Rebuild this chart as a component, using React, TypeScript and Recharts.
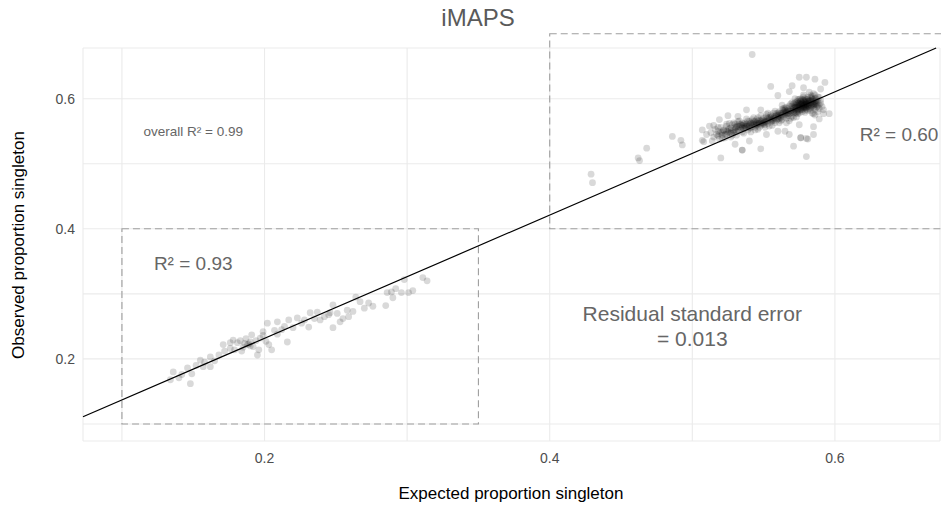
import { ScatterChart, Scatter, XAxis, YAxis, CartesianGrid, ReferenceArea, ReferenceLine, ReferenceDot } from 'recharts';

const FONT = '"Liberation Sans", Arial, Helvetica, sans-serif';

const gridTicks = [0.1, 0.2, 0.3, 0.4, 0.5, 0.6];

// [expected, observed] for the low-singleton group
const lowerCluster: [number, number][] = [
  [0.134, 0.168], [0.136, 0.18], [0.14, 0.171], [0.142, 0.176], [0.146, 0.186], [0.148, 0.162],
  [0.149, 0.177], [0.152, 0.19], [0.155, 0.198], [0.157, 0.188], [0.158, 0.195], [0.162, 0.188],
  [0.162, 0.203], [0.165, 0.197], [0.168, 0.206], [0.171, 0.222], [0.172, 0.212], [0.176, 0.225],
  [0.176, 0.216], [0.178, 0.229], [0.179, 0.214], [0.181, 0.225], [0.183, 0.228], [0.184, 0.212],
  [0.185, 0.218], [0.186, 0.224], [0.187, 0.231], [0.188, 0.222], [0.189, 0.223], [0.19, 0.22],
  [0.19, 0.226], [0.191, 0.237], [0.192, 0.219], [0.194, 0.228], [0.195, 0.206], [0.196, 0.214],
  [0.197, 0.232], [0.199, 0.242], [0.199, 0.236], [0.201, 0.227], [0.202, 0.255], [0.203, 0.222],
  [0.205, 0.214], [0.207, 0.244], [0.209, 0.257], [0.209, 0.238], [0.212, 0.245], [0.214, 0.25],
  [0.216, 0.226], [0.217, 0.26], [0.22, 0.248], [0.223, 0.263], [0.226, 0.255], [0.228, 0.26],
  [0.231, 0.249], [0.232, 0.271], [0.235, 0.262], [0.237, 0.272], [0.239, 0.26], [0.242, 0.265],
  [0.245, 0.268], [0.246, 0.271], [0.248, 0.283], [0.248, 0.248], [0.251, 0.27], [0.253, 0.257],
  [0.255, 0.262], [0.258, 0.275], [0.259, 0.265], [0.262, 0.273], [0.264, 0.295], [0.267, 0.288],
  [0.27, 0.278], [0.273, 0.286], [0.276, 0.281], [0.285, 0.282], [0.286, 0.302], [0.289, 0.303],
  [0.29, 0.294], [0.292, 0.308], [0.296, 0.302], [0.298, 0.322], [0.301, 0.302], [0.304, 0.305],
  [0.311, 0.325], [0.314, 0.32],
];

// [expected, observed] for the high-singleton group: scattered edge points
const upperFringe: [number, number][] = [
  [0.429, 0.484], [0.43, 0.471], [0.462, 0.509], [0.463, 0.505], [0.468, 0.524], [0.486, 0.542],
  [0.492, 0.536], [0.493, 0.529], [0.507, 0.552], [0.507, 0.536], [0.508, 0.534], [0.52, 0.509],
  [0.515, 0.559], [0.525, 0.574], [0.532, 0.573], [0.535, 0.521], [0.535, 0.521], [0.538, 0.583],
  [0.542, 0.668], [0.548, 0.523], [0.548, 0.583], [0.555, 0.619], [0.571, 0.527], [0.58, 0.511],
  [0.581, 0.538], [0.576, 0.54], [0.585, 0.545], [0.585, 0.557], [0.589, 0.569], [0.592, 0.583],
  [0.596, 0.577], [0.575, 0.633], [0.58, 0.633], [0.586, 0.63], [0.593, 0.625], [0.57, 0.62],
  [0.59, 0.615], [0.578, 0.617], [0.568, 0.611], [0.56, 0.605], [0.56, 0.55], [0.552, 0.545],
  [0.54, 0.535], [0.53, 0.53], [0.565, 0.55], [0.575, 0.56], [0.568, 0.545], [0.576, 0.54],
  [0.58, 0.539], [0.585, 0.577], [0.592, 0.577], [0.519, 0.568], [0.51, 0.545], [0.512, 0.558],
];

// [expected, observed] for the high-singleton group: main band
const upperBand: [number, number][] = [
  [0.513, 0.548], [0.515, 0.541], [0.516, 0.553], [0.517, 0.545], [0.518, 0.55], [0.519, 0.538],
  [0.52, 0.556], [0.514, 0.535], [0.518, 0.543], [0.521, 0.549],
  [0.522, 0.552], [0.523, 0.545], [0.524, 0.558], [0.525, 0.549], [0.526, 0.554], [0.527, 0.547],
  [0.528, 0.56], [0.529, 0.551], [0.53, 0.556], [0.523, 0.54], [0.526, 0.562], [0.528, 0.544],
  [0.53, 0.549], [0.524, 0.55], [0.527, 0.555],
  [0.531, 0.558], [0.532, 0.552], [0.533, 0.561], [0.534, 0.555], [0.535, 0.549], [0.536, 0.559],
  [0.537, 0.563], [0.538, 0.556], [0.539, 0.552], [0.54, 0.56], [0.532, 0.565], [0.534, 0.56],
  [0.536, 0.554], [0.538, 0.561], [0.54, 0.555], [0.533, 0.557], [0.535, 0.563], [0.537, 0.558],
  [0.539, 0.566], [0.531, 0.549],
  [0.541, 0.562], [0.542, 0.557], [0.543, 0.565], [0.544, 0.56], [0.545, 0.568], [0.546, 0.562],
  [0.547, 0.556], [0.548, 0.566], [0.549, 0.561], [0.55, 0.57], [0.541, 0.555], [0.543, 0.56],
  [0.545, 0.563], [0.547, 0.567], [0.549, 0.564], [0.542, 0.568], [0.544, 0.552], [0.546, 0.571],
  [0.548, 0.559], [0.55, 0.563],
  [0.551, 0.566], [0.552, 0.572], [0.553, 0.562], [0.554, 0.568], [0.555, 0.575], [0.556, 0.566],
  [0.557, 0.571], [0.558, 0.563], [0.559, 0.577], [0.56, 0.569], [0.551, 0.56], [0.553, 0.57],
  [0.555, 0.564], [0.557, 0.578], [0.559, 0.567], [0.552, 0.576], [0.554, 0.558], [0.556, 0.573],
  [0.558, 0.57], [0.56, 0.575],
  [0.561, 0.572], [0.562, 0.578], [0.563, 0.568], [0.564, 0.582], [0.565, 0.575], [0.566, 0.57],
  [0.567, 0.585], [0.568, 0.577], [0.569, 0.581], [0.57, 0.573], [0.561, 0.58], [0.562, 0.566],
  [0.563, 0.575], [0.564, 0.572], [0.565, 0.586], [0.566, 0.579], [0.567, 0.574], [0.568, 0.589],
  [0.569, 0.57], [0.57, 0.583], [0.563, 0.59], [0.566, 0.563], [0.569, 0.592], [0.565, 0.58],
  [0.571, 0.585], [0.572, 0.578], [0.573, 0.59], [0.574, 0.583], [0.575, 0.594], [0.576, 0.587],
  [0.577, 0.58], [0.578, 0.592], [0.579, 0.586], [0.58, 0.596], [0.571, 0.592], [0.572, 0.586],
  [0.573, 0.581], [0.574, 0.596], [0.575, 0.588], [0.576, 0.593], [0.577, 0.599], [0.578, 0.585],
  [0.579, 0.591], [0.58, 0.588], [0.571, 0.578], [0.572, 0.594], [0.573, 0.587], [0.574, 0.59],
  [0.575, 0.582], [0.576, 0.6], [0.577, 0.591], [0.578, 0.596], [0.579, 0.582], [0.58, 0.592],
  [0.572, 0.6], [0.574, 0.577], [0.576, 0.583], [0.578, 0.603], [0.58, 0.584], [0.573, 0.595],
  [0.575, 0.599], [0.577, 0.586], [0.579, 0.597], [0.571, 0.571],
  [0.581, 0.59], [0.582, 0.596], [0.583, 0.586], [0.584, 0.599], [0.585, 0.592], [0.586, 0.584],
  [0.587, 0.597], [0.588, 0.589], [0.589, 0.602], [0.59, 0.593], [0.581, 0.599], [0.582, 0.588],
  [0.583, 0.594], [0.584, 0.604], [0.585, 0.587], [0.586, 0.6], [0.587, 0.591], [0.588, 0.58],
  [0.581, 0.582], [0.583, 0.602], [0.585, 0.608], [0.582, 0.61], [0.586, 0.575], [0.589, 0.585],
  [0.584, 0.578],
];

// [expected, observed] for the high-singleton group: dense core of the band
const upperCore: [number, number][] = [
  [0.52, 0.548], [0.521, 0.544], [0.522, 0.551], [0.519, 0.546],
  [0.525, 0.552], [0.526, 0.548], [0.524, 0.545], [0.527, 0.551],
  [0.53, 0.553], [0.531, 0.556], [0.529, 0.548], [0.532, 0.558], [0.53, 0.561],
  [0.535, 0.556], [0.534, 0.552], [0.536, 0.561], [0.535, 0.559], [0.537, 0.555],
  [0.54, 0.558], [0.541, 0.563], [0.539, 0.559], [0.542, 0.561], [0.54, 0.565], [0.538, 0.558],
  [0.545, 0.561], [0.544, 0.565], [0.546, 0.565], [0.545, 0.559], [0.547, 0.563], [0.543, 0.563],
  [0.55, 0.566], [0.549, 0.568], [0.551, 0.564], [0.552, 0.568], [0.548, 0.563], [0.55, 0.561],
  [0.555, 0.569], [0.554, 0.571], [0.556, 0.568], [0.557, 0.569], [0.553, 0.566], [0.555, 0.572],
  [0.56, 0.572], [0.559, 0.574], [0.561, 0.575], [0.562, 0.571], [0.558, 0.573], [0.56, 0.578], [0.561, 0.569],
  [0.565, 0.577], [0.564, 0.579], [0.566, 0.581], [0.567, 0.578], [0.563, 0.578], [0.565, 0.583],
  [0.566, 0.576], [0.564, 0.585],
  [0.57, 0.58], [0.569, 0.584], [0.571, 0.587], [0.572, 0.583], [0.568, 0.581], [0.57, 0.589],
  [0.571, 0.581], [0.569, 0.578], [0.572, 0.59],
  [0.575, 0.585], [0.574, 0.588], [0.576, 0.59], [0.577, 0.588], [0.573, 0.585], [0.575, 0.592],
  [0.576, 0.585], [0.574, 0.593], [0.577, 0.594], [0.576, 0.596],
  [0.58, 0.59], [0.579, 0.593], [0.581, 0.593], [0.582, 0.591], [0.578, 0.589], [0.58, 0.594],
  [0.581, 0.588], [0.579, 0.588], [0.582, 0.598], [0.58, 0.599], [0.578, 0.598],
  [0.585, 0.595], [0.584, 0.592], [0.586, 0.596], [0.583, 0.597], [0.585, 0.59], [0.584, 0.601],
  [0.586, 0.591], [0.587, 0.594],
];

// [expected, observed] for the high-singleton group: thickest part of the band
const upperCoreWide: [number, number][] = [
  [0.518, 0.556], [0.521, 0.539], [0.524, 0.561], [0.527, 0.541], [0.529, 0.563],
  [0.531, 0.544], [0.533, 0.566], [0.536, 0.547], [0.538, 0.569], [0.541, 0.549], [0.543, 0.571],
  [0.544, 0.556], [0.546, 0.553], [0.548, 0.574], [0.551, 0.556], [0.553, 0.578], [0.556, 0.559],
  [0.558, 0.581], [0.547, 0.561], [0.552, 0.565], [0.557, 0.566],
  [0.561, 0.563], [0.563, 0.584], [0.566, 0.587], [0.568, 0.566], [0.57, 0.594], [0.573, 0.572],
  [0.562, 0.575], [0.567, 0.582], [0.572, 0.587], [0.574, 0.58],
  [0.575, 0.589], [0.576, 0.591], [0.577, 0.593], [0.578, 0.59], [0.579, 0.595], [0.58, 0.592],
  [0.581, 0.596], [0.582, 0.593], [0.583, 0.59], [0.584, 0.596], [0.585, 0.598], [0.586, 0.593],
  [0.578, 0.587], [0.58, 0.586], [0.582, 0.585], [0.584, 0.588], [0.576, 0.597], [0.579, 0.6],
  [0.581, 0.602], [0.583, 0.605], [0.587, 0.6], [0.588, 0.596], [0.577, 0.583], [0.579, 0.579],
  [0.583, 0.582], [0.587, 0.587], [0.589, 0.591], [0.575, 0.578], [0.586, 0.606], [0.588, 0.603],
  [0.59, 0.598], [0.591, 0.588], [0.578, 0.606], [0.574, 0.599], [0.573, 0.578],
];

// fitted line end points (expected, observed)
const fitLine = [
  { x: 0.0727, y: 0.111 },
  { x: 0.671, y: 0.678 },
];

const toPoints = (rows: [number, number][]) => rows.map(([x, y]) => ({ x, y }));

const PointShape = (props: any) => (
  <circle cx={props.cx} cy={props.cy} r={3.4} fill="#000" fillOpacity={0.15} />
);

const annoStyle = { fill: '#666666', fontFamily: FONT };

const ResidualLabel = (props: any) => {
  const vb = props.viewBox || {};
  const cx = vb.x + (vb.width || 0) / 2;
  const cy = vb.y + (vb.height || 0) / 2;
  return (
    <text x={cx} y={cy} textAnchor="middle" fontSize={21} {...annoStyle}>
      <tspan x={cx} dy={-5}>Residual standard error</tspan>
      <tspan x={cx} dy={25}>= 0.013</tspan>
    </text>
  );
};

export default function App() {
  return (
    <div style={{ position: 'absolute', left: 0, top: 0, width: 941, height: 512, background: '#fff' }}>
      <div
        style={{
          position: 'absolute', left: 0, top: 4, width: 956, textAlign: 'center',
          fontFamily: FONT, fontSize: 24, color: '#5a5a5a', lineHeight: '28px',
        }}
      >
        iMAPS
      </div>
      <ScatterChart width={941} height={512} margin={{ top: 48, right: 1, bottom: 0, left: 0 }}>
        <CartesianGrid stroke="#ebebeb" strokeWidth={1.1} />
        <XAxis
          type="number"
          dataKey="x"
          domain={[0.0727, 0.6737]}
          allowDataOverflow
          ticks={gridTicks}
          tickFormatter={(v: number) => (Math.round(v * 10) % 2 === 0 ? v.toFixed(1) : '')}
          axisLine={false}
          tickLine={false}
          tickMargin={6}
          height={71}
          tick={{ fill: '#4d4d4d', fontSize: 14, fontFamily: FONT }}
          label={{
            content: () => (
              <text x={511} y={499} textAnchor="middle" fontSize={17} fill="#000" fontFamily={FONT}>
                Expected proportion singleton
              </text>
            ),
          }}
        />
        <YAxis
          type="number"
          dataKey="y"
          domain={[0.0738, 0.678]}
          allowDataOverflow
          ticks={gridTicks}
          tickFormatter={(v: number) => (Math.round(v * 10) % 2 === 0 ? v.toFixed(1) : '')}
          axisLine={false}
          tickLine={false}
          width={83}
          tick={{ fill: '#4d4d4d', fontSize: 14, fontFamily: FONT }}
          label={{
            content: () => (
              <text x={24} y={245} transform="rotate(-90 24 245)" textAnchor="middle" fontSize={17} fill="#000" fontFamily={FONT}>
                Observed proportion singleton
              </text>
            ),
          }}
        />
        <ReferenceArea x1={0.1} x2={0.35} y1={0.1} y2={0.4} fill="none" fillOpacity={0} stroke="#9e9e9e" strokeWidth={1.1} strokeDasharray="7 4" ifOverflow="visible" />
        <ReferenceArea x1={0.4} x2={0.7} y1={0.4} y2={0.7} fill="none" fillOpacity={0} stroke="#9e9e9e" strokeWidth={1.1} strokeDasharray="7 4" ifOverflow="visible" />
        <Scatter data={toPoints(lowerCluster)} shape={PointShape} isAnimationActive={false} />
        <Scatter data={toPoints(upperFringe)} shape={PointShape} isAnimationActive={false} />
        <Scatter data={toPoints(upperBand)} shape={PointShape} isAnimationActive={false} />
        <Scatter data={toPoints(upperCore)} shape={PointShape} isAnimationActive={false} />
        <Scatter data={toPoints(upperCoreWide)} shape={PointShape} isAnimationActive={false} />
        <ReferenceLine segment={fitLine} stroke="#000" strokeWidth={1.2} ifOverflow="visible" />
        <ReferenceDot x={0.15} y={0.55} r={0} fill="none" stroke="none" ifOverflow="visible"
          label={{ value: 'overall R² = 0.99', position: 'center', fontSize: 13.5, ...annoStyle }} />
        <ReferenceDot x={0.15} y={0.3466} r={0} fill="none" stroke="none" ifOverflow="visible"
          label={{ value: 'R² = 0.93', position: 'center', fontSize: 19, ...annoStyle }} />
        <ReferenceDot x={0.645} y={0.546} r={0} fill="none" stroke="none" ifOverflow="visible"
          label={{ value: 'R² = 0.60', position: 'center', fontSize: 19, ...annoStyle }} />
        <ReferenceDot x={0.5} y={0.25} r={0} fill="none" stroke="none" ifOverflow="visible"
          label={{ content: ResidualLabel }} />
      </ScatterChart>
    </div>
  );
}
